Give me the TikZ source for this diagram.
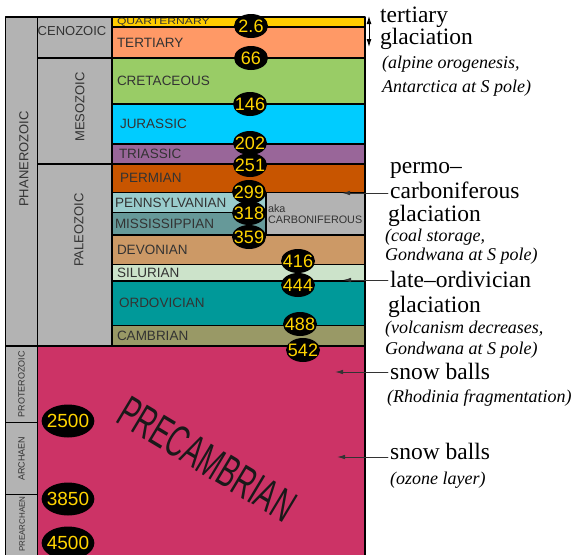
\documentclass[tikz,border=0pt]{standalone}
\usepackage{fontspec}
\setmainfont{Liberation Serif}
\setsansfont{Liberation Sans}
\usepackage{graphicx}
\usepackage{tikz}
\usetikzlibrary{arrows.meta,shapes.geometric}
\definecolor{labelgray}{HTML}{333333}
\definecolor{boxgray}{HTML}{B3B3B3}
\definecolor{ageyellow}{HTML}{FFD400}
\definecolor{quartcol}{HTML}{FFCC00}
\definecolor{tertcol}{HTML}{FF9966}
\definecolor{cretcol}{HTML}{99CC66}
\definecolor{jurcol}{HTML}{00CCFF}
\definecolor{tricol}{HTML}{996699}
\definecolor{permcol}{HTML}{C85500}
\definecolor{penncol}{HTML}{99CCCC}
\definecolor{misscol}{HTML}{669999}
\definecolor{devcol}{HTML}{CC9966}
\definecolor{silcol}{HTML}{CCE3CA}
\definecolor{ordcol}{HTML}{009999}
\definecolor{cambcol}{HTML}{999966}
\definecolor{precamcol}{HTML}{CC3366}
\tikzset{
    every picture/.style={line cap=round,line join=round},
    colbox/.style={draw=black,fill=boxgray,line width=1.8pt,outer sep=0pt,
      inner sep=0pt,anchor=north west},
    periodbox/.style={draw=black,line width=1.8pt,outer sep=0pt,anchor=north west,
      inner xsep=5pt,inner ysep=0pt,text width=243pt,align=left,text=labelgray,
      font=\sffamily\fontsize{13.5}{14}\selectfont},
    eralabel/.style={text=labelgray,inner sep=0pt,font=\sffamily\fontsize{13}{13}\selectfont},
    eonlabel/.style={text=labelgray,inner sep=0pt,font=\sffamily\fontsize{9}{9}\selectfont},
    agenode/.style={ellipse,fill=black,text=ageyellow,inner xsep=-3pt,inner ysep=2pt,
      minimum width=34pt,minimum height=24pt,font=\sffamily\fontsize{18}{18}\selectfont},
    bigage/.style={agenode,inner xsep=-2.5pt,inner ysep=4.5pt,
      minimum width=52pt,minimum height=33pt,font=\sffamily\fontsize{19}{19}\selectfont},
    notemain/.style={anchor=base west,inner sep=2pt,font=\fontsize{23.5}{24}\selectfont},
    noteital/.style={anchor=base west,inner sep=2pt,font=\itshape\fontsize{18}{18}\selectfont},
    notearrow/.style={-{Latex[length=8pt,width=4.5pt]},draw=black!80,line width=0.9pt},
    spanarrow/.style={{Latex[length=8pt,width=5pt]}-{Latex[length=8pt,width=5pt]},
      draw=black,line width=0.9pt}
}

\begin{document}
\begin{tikzpicture}[x=1pt,y=-1pt]
  \useasboundingbox (0,0) rectangle (574,555);
  % eons
  \node[colbox,minimum width=32pt,minimum height=329pt] (phan) at (5.5,17) {};
  \node[colbox,minimum width=32pt,minimum height=76.5pt] (prot) at (5.5,346) {};
  \node[colbox,minimum width=32pt,minimum height=72pt] (arch) at (5.5,422.5) {};
  \node[colbox,minimum width=32pt,minimum height=64pt] (prearch) at (5.5,494.5) {};
  % eras
  \node[colbox,minimum width=74.5pt,minimum height=41pt] (ceno) at (37.5,17) {};
  \node[colbox,minimum width=74.5pt,minimum height=106pt] (meso) at (37.5,58) {};
  \node[colbox,minimum width=74.5pt,minimum height=182pt] (paleo) at (37.5,164) {};
  \node[colbox,fill=precamcol,minimum width=327.5pt,minimum height=212pt] (precam) at (37.5,346) {};
  % periods
  \node[periodbox,fill=quartcol,minimum height=10pt,font=\sffamily\fontsize{9}{9}\selectfont] (quart) at (112,17) {\scalebox{1.35}[1]{QUARTERNARY}};
  \node[periodbox,fill=tertcol,minimum height=31pt] (tert) at (112,27) {TERTIARY};
  \node[periodbox,fill=cretcol,minimum height=46pt] (cret) at (112,58) {CRETACEOUS};
  \node[periodbox,fill=jurcol,minimum height=40pt] (jur) at (112,104) {\hspace*{3pt}JURASSIC};
  \node[periodbox,fill=tricol,minimum height=20pt] (tri) at (112,144) {\hspace*{2pt}TRIASSIC};
  \node[periodbox,fill=permcol,minimum height=28.5pt] (perm) at (112,164) {\hspace*{3pt}PERMIAN};
  \node[periodbox,fill=penncol,minimum height=20pt,text width=148pt,inner xsep=3pt] (penn) at (112,192.5) {PENNSYLVANIAN};
  \node[periodbox,fill=misscol,minimum height=22.5pt,text width=148pt,inner xsep=3pt] (miss) at (112,212.5) {MISSISSIPPIAN};
  \node[periodbox,fill=boxgray,minimum height=42.5pt,text width=95pt,inner xsep=2pt,
    font=\sffamily\fontsize{10.8}{10.8}\selectfont] (carbbox) at (266,192.5) {aka\\CARBONIFEROUS};
  \node[periodbox,fill=devcol,minimum height=29.5pt] (dev) at (112,235) {DEVONIAN};
  \node[periodbox,fill=silcol,minimum height=16.5pt] (sil) at (112,264.5) {SILURIAN};
  \node[periodbox,fill=ordcol,minimum height=44.5pt] (ord) at (112,281) {\hspace*{2pt}ORDOVICIAN};
  \node[periodbox,fill=cambcol,minimum height=20.5pt] (camb) at (112,325.5) {CAMBRIAN};
  % labels of eons and eras
  \node[eralabel] (cenolbl) at (72,31) {CENOZOIC};
  \node[eralabel,rotate=90] (mesolbl) at (80,107) {MESOZOIC};
  \node[eralabel,rotate=90] (paleolbl) at (79,230) {PALEOZOIC};
  \node[eralabel,rotate=90] (phanlbl) at (24,159) {PHANEROZOIC};
  \node[eonlabel,rotate=90] (protlbl) at (prot.center) {PROTEROZOIC};
  \node[eonlabel,rotate=90] (archlbl) at (arch.center) {ARCHAEN};
  \node[eonlabel,rotate=90,font=\sffamily\fontsize{8}{8}\selectfont] (prearchlbl) at (22,524) {PREARCHAEN};
  \node[rotate=-31,inner sep=0pt,text=black!90,font=\sffamily\fontsize{45}{45}\selectfont]
    (precamlbl) at (207,459) {\scalebox{0.6}[1]{PRECAMBRIAN}};
  % ages
  \node[agenode] (a26) at (251,26) {2.6};
  \node[agenode] (a66) at (251,58) {66};
  \node[agenode] (a146) at (250,104) {146};
  \node[agenode] (a202) at (250,143) {202};
  \node[agenode] (a251) at (250,165) {251};
  \node[agenode] (a299) at (249,192) {299};
  \node[agenode] (a318) at (249,213) {318};
  \node[agenode] (a359) at (249,237) {359};
  \node[agenode] (a416) at (298,261) {416};
  \node[agenode] (a444) at (298,285) {444};
  \node[agenode] (a488) at (300,324) {488};
  \node[agenode] (a542) at (303,350) {542};
  \node[bigage] (a2500) at (68,421) {2500};
  \node[bigage] (a3850) at (68,499) {3850};
  \node[bigage] (a4500) at (68,543) {4500};
  % glaciations
  \node[notemain] (tertnote) at (378,22) {tertiary};
  \node[notemain] (tertglac) at (378,44) {glaciation};
  \node[noteital] (tertwhy) at (380,68) {(alpine orogenesis,};
  \node[noteital] (tertwhere) at (380,92) {Antarctica at S pole)};
  \node[notemain] (permo) at (388,173) {permo–};
  \node[notemain] (carb) at (388,198) {carboniferous};
  \node[notemain] (carbglac) at (386,221) {glaciation};
  \node[noteital] (carbwhy) at (383,241) {(coal storage,};
  \node[noteital] (carbwhere) at (383,260) {Gondwana at S pole)};
  \node[notemain] (ordo) at (388,287) {late–ordivician};
  \node[notemain] (ordoglac) at (386,312) {glaciation};
  \node[noteital] (ordowhy) at (383,333) {(volcanism decreases,};
  \node[noteital] (ordowhere) at (383,354) {Gondwana at S pole)};
  \node[notemain] (snowa) at (388,379) {snow balls};
  \node[noteital] (snowawhy) at (385,402) {(Rhodinia fragmentation)};
  \node[notemain] (snowb) at (388,459) {snow balls};
  \node[noteital] (snowbwhy) at (388,484) {(ozone layer)};
  \coordinate (glactop) at (369,16);
  \coordinate (glacbot) at (369,47);
  \coordinate (carbtip) at (342,193);
  \coordinate (ordotip) at (343,280);
  \coordinate (snowatip) at (335,372);
  \coordinate (snowbtip) at (337,457);
  \draw[spanarrow] (glactop) -- (glacbot);
  \draw[notearrow] (carb.west |- carbtip) -- (carbtip);
  \draw[notearrow] (ordo.west |- ordotip) -- (ordotip);
  \draw[notearrow] (snowa.west |- snowatip) -- (snowatip);
  \draw[notearrow] (snowb.west |- snowbtip) -- (snowbtip);
\end{tikzpicture}
\end{document}
